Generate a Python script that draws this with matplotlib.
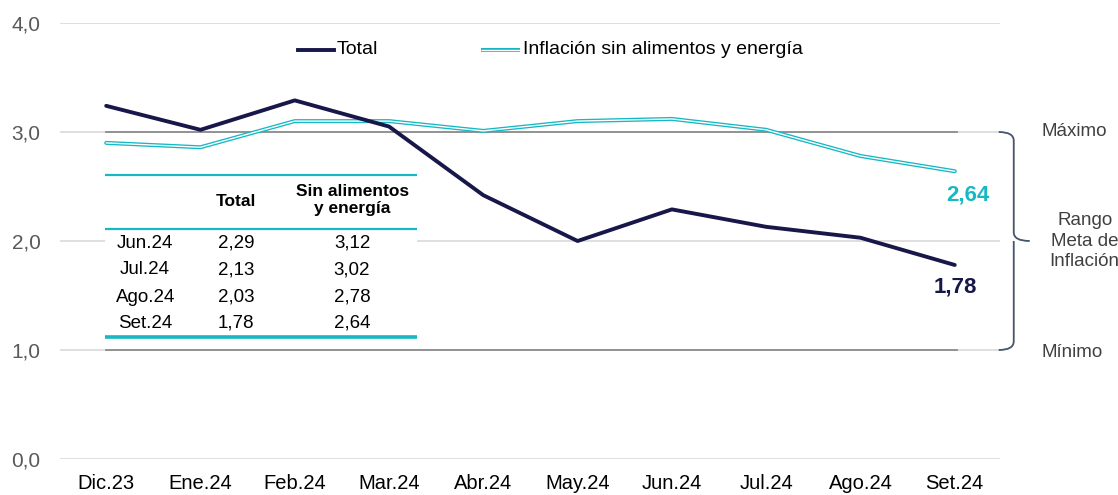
import matplotlib.pyplot as plt
from matplotlib.path import Path
from matplotlib.patches import PathPatch, Rectangle
import numpy as np

plt.rcParams["font.family"] = ["Liberation Sans", "DejaVu Sans"]

# ---- data ----
months = ["Dic.23", "Ene.24", "Feb.24", "Mar.24", "Abr.24", "May.24",
          "Jun.24", "Jul.24", "Ago.24", "Set.24"]
total = [3.24, 3.02, 3.29, 3.05, 2.42, 2.00, 2.29, 2.13, 2.03, 1.78]
core = [2.90, 2.86, 3.10, 3.10, 3.01, 3.10, 3.12, 3.02, 2.78, 2.64]
target_min, target_max = 1.0, 3.0
yticks = [0.0, 1.0, 2.0, 3.0, 4.0]

NAVY = "#17174a"
CYAN = "#16b8c4"
GRID = "#d9d9d9"
DARKGRID = "#8c8c8c"
TICKGRAY = "#595959"

def fmt(v, nd=2):
    return f"{v:.{nd}f}".replace(".", ",")

fig = plt.figure(figsize=(11.18, 4.95), dpi=100)
ax = fig.add_axes([60 / 1118, 36 / 495, 940 / 1118, 436 / 495])
x = np.arange(len(months))

# gridlines
for yt in yticks:
    ax.axhline(yt, color=GRID, lw=1.2, zorder=0)
# target range lines
ax.plot([x[0], x[-1] + 0.02], [target_max] * 2, color=DARKGRID, lw=1.3, zorder=1)
ax.plot([x[0], x[-1] + 0.02], [target_min] * 2, color=DARKGRID, lw=1.3, zorder=1)

# series
ax.plot(x, total, color=NAVY, lw=2.8, zorder=4, solid_capstyle="round")
ax.plot(x, core, color=CYAN, lw=2.9, zorder=3, solid_capstyle="round")
ax.plot(x, core, color="white", lw=1.0, zorder=3.5, solid_capstyle="round")

# last value labels
ax.text(x[-1] + 0.14, core[-1] - 0.22, fmt(core[-1]), color=CYAN, fontsize=16,
        fontweight="bold", ha="center", va="center")
ax.text(x[-1] + 0.01, total[-1] - 0.20, fmt(total[-1]), color=NAVY, fontsize=16,
        fontweight="bold", ha="center", va="center")

ax.set_xlim(-0.49, 9.48)
ax.set_ylim(0, 4)
ax.set_xticks(x)
ax.set_xticklabels(months, fontsize=14.5, color="black")
ax.set_yticks(yticks)
ax.set_yticklabels([fmt(v, 1) for v in yticks], fontsize=15, color=TICKGRAY)
ax.tick_params(length=0)
ax.tick_params(axis="y", pad=14)
ax.tick_params(axis="x", pad=11)
for s in ax.spines.values():
    s.set_visible(False)

# legend (manual, to match layout)
ly = 1 - 50 / 495
fig.lines.append(plt.Line2D([298 / 1118, 334 / 1118], [ly] * 2,
                            color=NAVY, lw=2.8, transform=fig.transFigure))
fig.text(337 / 1118, ly, "Total", fontsize=14, va="center")
fig.lines.append(plt.Line2D([481 / 1118, 520 / 1118], [ly] * 2,
                            color=CYAN, lw=2.9, transform=fig.transFigure,
                            solid_capstyle="butt"))
fig.lines.append(plt.Line2D([481 / 1118, 520 / 1118], [ly] * 2,
                            color="white", lw=1.0, transform=fig.transFigure,
                            solid_capstyle="butt"))
fig.text(523 / 1118, ly, "Inflación sin alimentos y energía",
         fontsize=14, va="center")

# ---- inset table ----
def px2x(px):
    return (px - 106) / 94.33

def py2y(py):
    return (459 - py) / 109.0

tx0, tx1 = px2x(105), px2x(417)
ty_top, ty_bot = py2y(175), py2y(337)
ax.add_patch(Rectangle((tx0, ty_bot), tx1 - tx0, ty_top - ty_bot,
                       facecolor="white", edgecolor="none", zorder=2))
ax.plot([tx0, tx1], [ty_top] * 2, color=CYAN, lw=1.6, zorder=5,
        solid_capstyle="butt")
ax.plot([tx0, tx1], [py2y(229)] * 2, color=CYAN, lw=1.6, zorder=5,
        solid_capstyle="butt")
ax.plot([tx0, tx1], [ty_bot] * 2, color=CYAN, lw=2.6, zorder=5,
        solid_capstyle="butt")

col_lbl, col_tot, col_core = px2x(145), px2x(236), px2x(352)
ax.text(col_tot, py2y(201), "Total", fontsize=12.5, fontweight="bold",
        ha="center", va="center", zorder=6)
ax.text(col_core, py2y(200), "Sin alimentos\ny energía", fontsize=12.5,
        fontweight="bold", ha="center", va="center", zorder=6,
        linespacing=1.25)
row_y = [243, 270, 297, 323]
for i, py in enumerate(row_y):
    k = len(months) - 4 + i
    ax.text(col_lbl, py2y(py), months[k], fontsize=13.5, ha="center",
            va="center", zorder=6)
    ax.text(col_tot, py2y(py), fmt(total[k]), fontsize=13.5, ha="center",
            va="center", zorder=6)
    ax.text(col_core, py2y(py), fmt(core[k]), fontsize=13.5, ha="center",
            va="center", zorder=6)

# ---- target range bracket ----
BR = "#44546a"
xa, xb, xc = px2x(999), px2x(1014), px2x(1030)
r = 0.08
ymid = (target_min + target_max) / 2
verts = [(xa, target_max), (xb, target_max), (xb, target_max - r),
         (xb, ymid + r), (xb, ymid), (xc, ymid),
         (xb, ymid), (xb, ymid - r),
         (xb, target_min + r), (xb, target_min), (xa, target_min)]
codes = [Path.MOVETO, Path.CURVE3, Path.CURVE3,
         Path.LINETO, Path.CURVE3, Path.CURVE3,
         Path.MOVETO, Path.LINETO,
         Path.LINETO, Path.CURVE3, Path.CURVE3]
ax.add_patch(PathPatch(Path(verts, codes), facecolor="none", edgecolor=BR,
                       lw=1.3, clip_on=False, zorder=5))

ax.text(px2x(1075), target_max, "Máximo", fontsize=13.5, color="#404040",
        ha="center", va="center", clip_on=False)
ax.text(px2x(1085), ymid, "Rango\nMeta de\nInflación", fontsize=13.5,
        color="#404040", ha="center", va="center", clip_on=False,
        linespacing=1.3)
ax.text(px2x(1072), target_min - 0.02, "Mínimo", fontsize=13.5,
        color="#404040", ha="center", va="center", clip_on=False)

fig.savefig("out.png", dpi=100)
